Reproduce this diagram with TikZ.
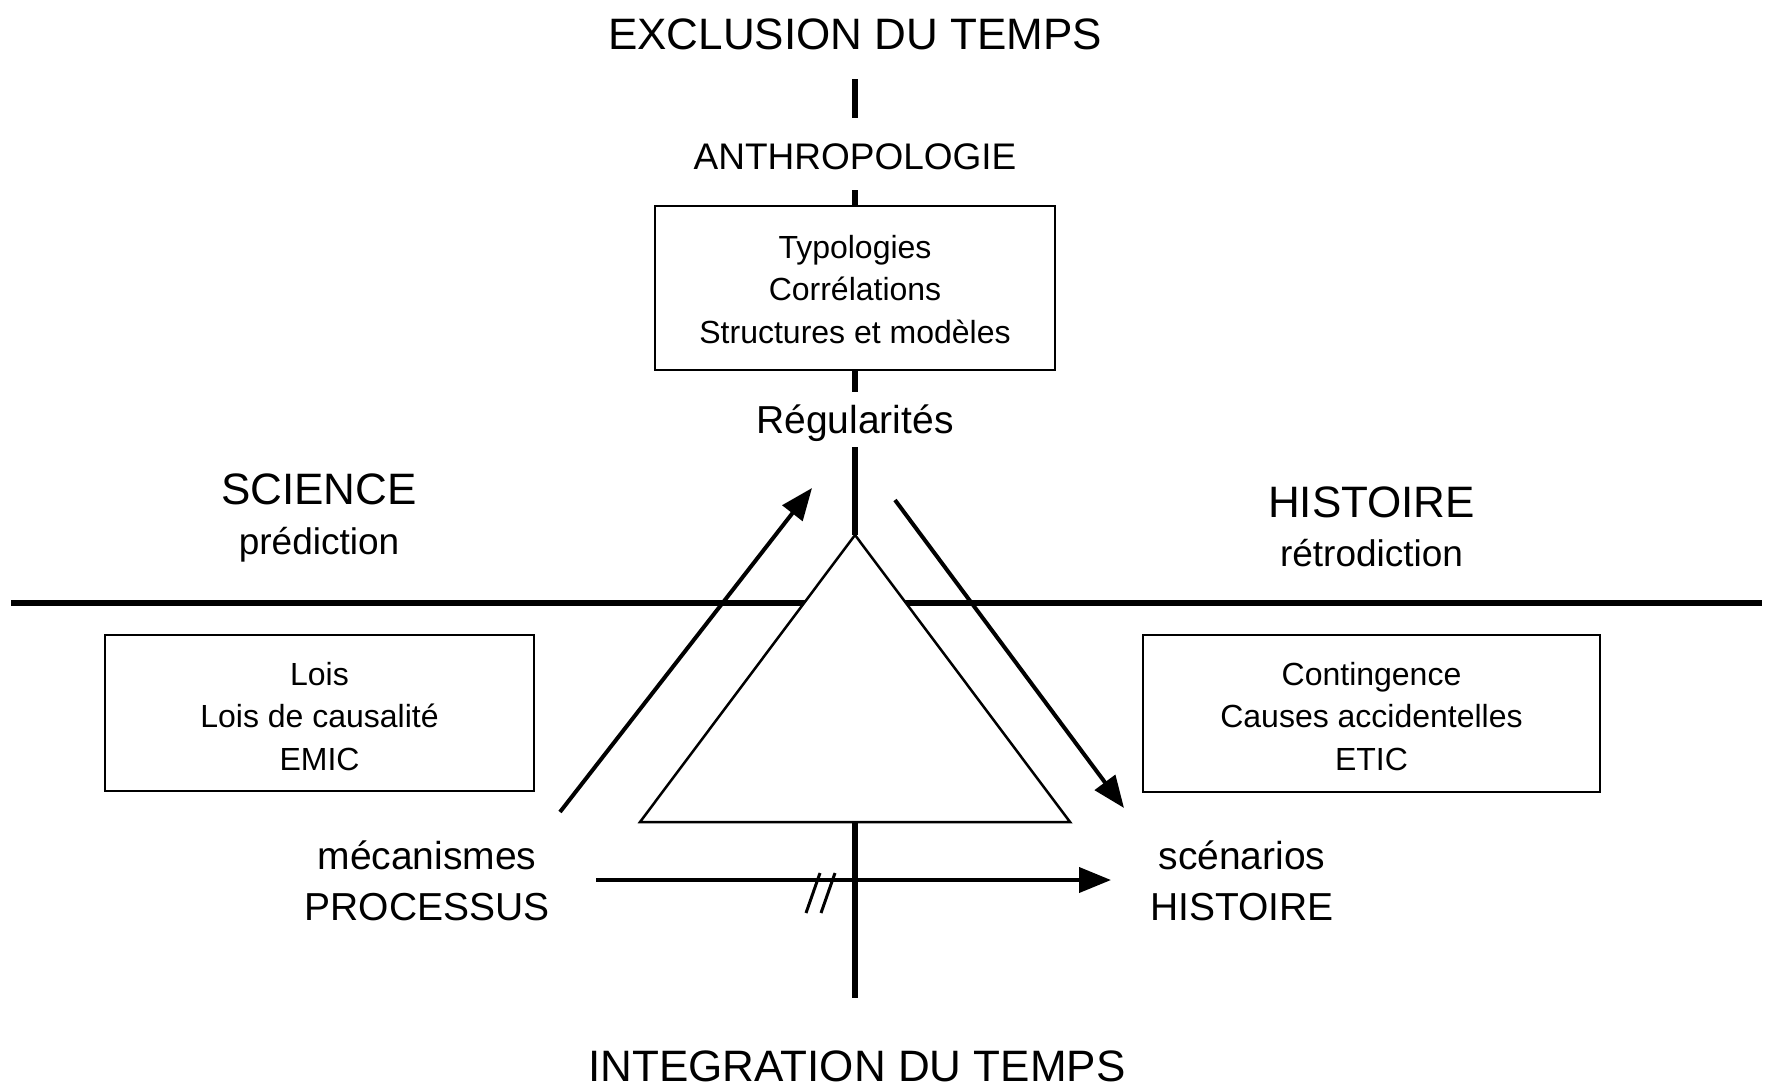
\documentclass[tikz,border=0pt]{standalone}
\usepackage{fontspec}
\setmainfont{Liberation Sans}
\usetikzlibrary{arrows.meta}
\begin{document}
\begin{tikzpicture}[x=1pt,y=-1pt,
  axisline/.style={line width=5.5pt},
  horizline/.style={line width=6pt},
  boxst/.style={draw, line width=2.5pt, inner sep=0pt},
  arr/.style={line width=4pt, -{Triangle[length=32pt,width=25pt]}},
  slash/.style={line width=3pt},
  lbl/.style={anchor=base, inner sep=0pt},
  fbig/.style={font=\fontsize{44}{44}\selectfont},
  fmid/.style={font=\fontsize{39}{39}\selectfont},
  fsub/.style={font=\fontsize{37}{37}\selectfont},
  fbox/.style={font=\fontsize{32}{32}\selectfont}]
\useasboundingbox (0,0) rectangle (1769,1087);

% titles
\node[lbl,fbig] (excl) at (855,49) {EXCLUSION DU TEMPS};
\node[lbl,fsub] (anthro) at (855,169) {ANTHROPOLOGIE};
\node[lbl,fmid] (regul) at (855,433) {Régularités};
\node[lbl,fbig] (integ) at (857,1081) {INTEGRATION DU TEMPS};

% side headings
\node[lbl,fbig] (science) at (319,504) {SCIENCE};
\node[lbl,fsub] (predict) at (319,554) {prédiction};
\node[lbl,fbig] (histtop) at (1371.5,517) {HISTOIRE};
\node[lbl,fsub] (retro) at (1371.5,566) {rétrodiction};

% bottom labels
\node[lbl,fmid] (meca) at (427,869) {mécanismes};
\node[lbl,fmid] (proc) at (427,920) {PROCESSUS};
\node[lbl,fmid] (scen) at (1242,869) {scénarios};
\node[lbl,fmid] (histbot) at (1242,920) {HISTOIRE};

% boxes
\node[boxst, minimum width=400pt, minimum height=164pt] (tbox) at (855,288) {};
\node[lbl,fbox] (t1) at (855,258) {Typologies};
\node[lbl,fbox] (t2) at (855,300.5) {Corrélations};
\node[lbl,fbox] (t3) at (855,343) {Structures et modèles};

\node[boxst, minimum width=429pt, minimum height=156pt] (lbox) at (319.5,713) {};
\node[lbl,fbox] (l1) at (319.5,685) {Lois};
\node[lbl,fbox] (l2) at (319.5,727.5) {Lois de causalité};
\node[lbl,fbox] (l3) at (319.5,770) {EMIC};

\node[boxst, minimum width=457pt, minimum height=157pt] (rbox) at (1371.5,713.5) {};
\node[lbl,fbox] (r1) at (1371.5,685) {Contingence};
\node[lbl,fbox] (r2) at (1371.5,727.5) {Causes accidentelles};
\node[lbl,fbox] (r3) at (1371.5,770) {ETIC};

% coordinates
\coordinate (d1) at (855,79);
\coordinate (d2) at (855,118);
\coordinate (d3) at (855,190);
\coordinate (d4) at (855,392);
\coordinate (d5) at (855,447);
\coordinate (apex) at (855,535);
\coordinate (bl) at (640,822);
\coordinate (br) at (1070,822);
\coordinate (bm) at (855,822);
\coordinate (bot) at (855,998);
\coordinate (hl) at (11,603);
\coordinate (hr) at (1762,603);
\coordinate (la0) at (560,812);
\coordinate (la1) at (812,488);
\coordinate (ra0) at (895,500);
\coordinate (ra1) at (1124,808);
\coordinate (ha0) at (596,880);
\coordinate (ha1) at (1111,880);
\coordinate (s1a) at (820,873);
\coordinate (s1b) at (806,913);
\coordinate (s2a) at (835,873);
\coordinate (s2b) at (821,913);

% axis
\draw[axisline] (d1) -- (d2);
\draw[axisline] (d3) -- (tbox.north);
\draw[axisline] (tbox.south) -- (d4);
\draw[axisline] (d5) -- (apex);
\draw[axisline] (bm) -- (bot);

% horizontal divider and triangle
\draw[horizline] (hl) -- (hr);
\draw[line width=2.5pt, fill=white, line join=miter] (apex) -- (bl) -- (br) -- cycle;

% arrows
\draw[arr] (la0) -- (la1);
\draw[arr] (ra0) -- (ra1);
\draw[arr] (ha0) -- (ha1);
\draw[slash] (s1a) -- (s1b);
\draw[slash] (s2a) -- (s2b);
\end{tikzpicture}
\end{document}
